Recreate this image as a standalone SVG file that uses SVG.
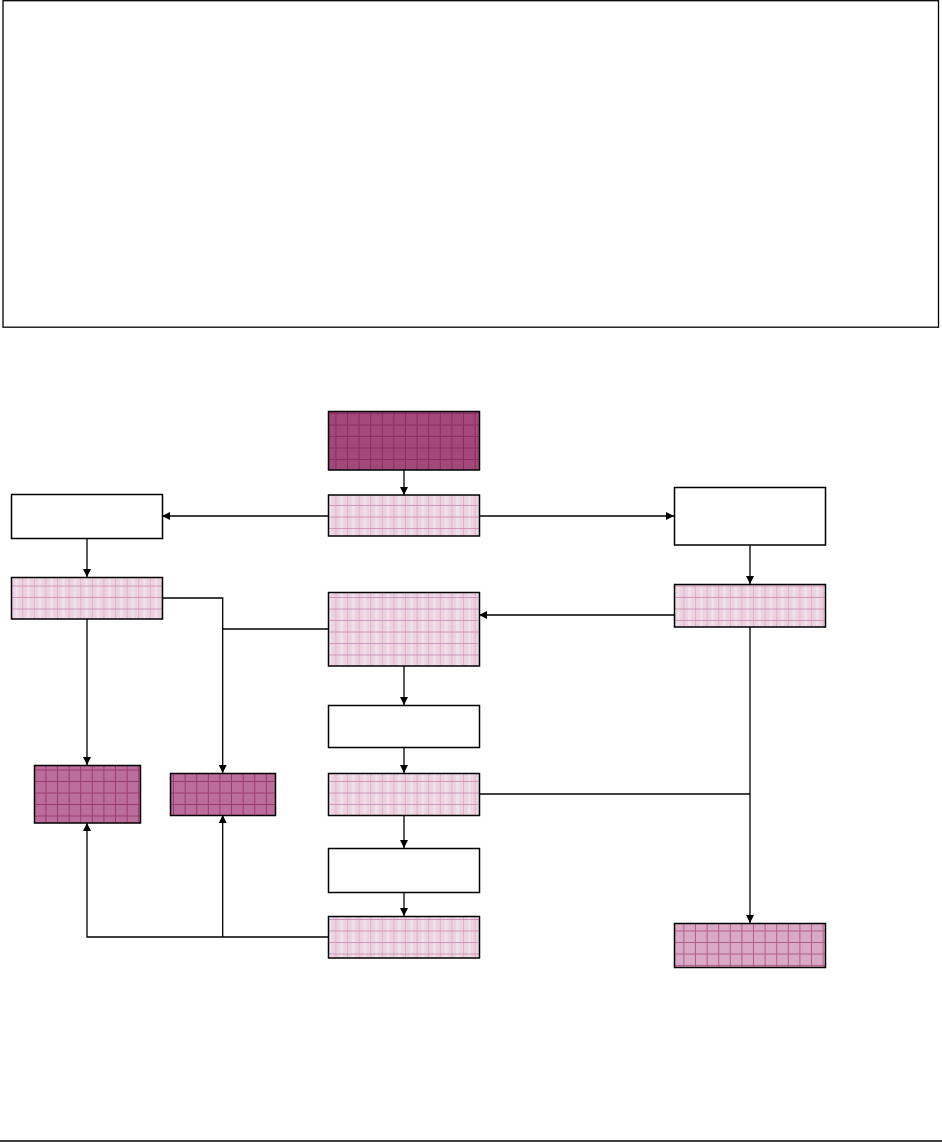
<svg xmlns="http://www.w3.org/2000/svg" width="942" height="1142" viewBox="0 0 942 1142">
<style>
.frame{fill:none;stroke:#000;stroke-width:1.3}
.box{stroke:#000;stroke-width:1.5}
.w{fill:#fff}
.lt{fill:url(#pLight)}
.dk{fill:url(#pDark)}
.md{fill:url(#pMed)}
.pk{fill:url(#pPink)}
.c{fill:none;stroke:#000;stroke-width:1.3}
.ca{fill:none;stroke:#000;stroke-width:1.3;marker-end:url(#ah)}
</style>
<defs>
<marker id="ah" viewBox="0 0 10 10" refX="10" refY="5" markerWidth="8" markerHeight="8" markerUnits="userSpaceOnUse" orient="auto">
<path d="M0,0 L10,5 L0,10 z" fill="#000"/>
</marker>
<pattern id="pLight" patternUnits="userSpaceOnUse" width="11.6" height="11.5">
<rect width="11.6" height="11.5" fill="#ebd3e1"/>
<rect x="4" width="2.5" height="11.5" fill="#f1e2eb"/>
<rect x="10.9" width="0.7" height="11.5" fill="#d9a6c3"/>
<rect y="10.7" width="11.6" height="0.8" fill="#c98ab0"/>
</pattern>
<pattern id="pDark" patternUnits="userSpaceOnUse" width="11.6" height="11.5">
<rect width="11.6" height="11.5" fill="#a3487b"/>
<rect x="10.6" width="1" height="11.5" fill="#8a2c61"/>
<rect y="10.5" width="11.6" height="1" fill="#8a2c61"/>
</pattern>
<pattern id="pMed" patternUnits="userSpaceOnUse" width="11.6" height="11.5">
<rect width="11.6" height="11.5" fill="#bb6e9c"/>
<rect x="10.6" width="1" height="11.5" fill="#9a3a72"/>
<rect y="10.5" width="11.6" height="1" fill="#9a3a72"/>
</pattern>
<pattern id="pPink" patternUnits="userSpaceOnUse" width="11.6" height="11.5">
<rect width="11.6" height="11.5" fill="#d9a9c5"/>
<rect x="10.6" width="1" height="11.5" fill="#b05c8c"/>
<rect y="10.5" width="11.6" height="1" fill="#b05c8c"/>
</pattern>
</defs>
<rect width="942" height="1142" fill="#fff"/>
<rect class="frame" x="3" y="0.7" width="935.5" height="326.5"/>
<line x1="0" y1="1141" x2="942" y2="1141" stroke="#000" stroke-width="1.5"/>

<g id="connectors">
<path class="ca" d="M404,470 V495"/>
<path class="ca" d="M328,516 H162"/>
<path class="ca" d="M479,516 H674"/>
<path class="ca" d="M87,538 V577"/>
<path class="ca" d="M750,545 V584"/>
<path class="ca" d="M674,615 H479"/>
<path class="ca" d="M87,619 V765"/>
<path class="c" d="M162,598 H222.7 V629"/>
<path class="ca" d="M328,629 H222.7 V773"/>
<path class="ca" d="M404,666 V705"/>
<path class="ca" d="M404,747 V773"/>
<path class="ca" d="M404,815 V848"/>
<path class="ca" d="M404,892 V916"/>
<path class="c" d="M479,794 H750"/>
<path class="ca" d="M750,627 V923"/>
<path class="ca" d="M328,937 H87 V823"/>
<path class="ca" d="M222.7,937 V815"/>
</g>

<g id="nodeA"><rect class="box dk" x="328.5" y="411.5" width="151" height="58.5"/></g>
<g id="nodeB"><rect class="box lt" x="328.5" y="495" width="151" height="41"/></g>
<g id="nodeL1"><rect class="box w" x="11.5" y="494.5" width="151" height="44"/></g>
<g id="nodeL2"><rect class="box lt" x="11.5" y="577.5" width="151" height="41.5"/></g>
<g id="nodeR1"><rect class="box w" x="674.5" y="487.5" width="151" height="57.5"/></g>
<g id="nodeR2"><rect class="box lt" x="674.5" y="584.5" width="151" height="42.5"/></g>
<g id="nodeC"><rect class="box lt" x="328.5" y="592.5" width="151" height="73.5"/></g>
<g id="nodeD"><rect class="box w" x="328.5" y="705.5" width="151" height="42"/></g>
<g id="nodeE"><rect class="box lt" x="328.5" y="773.5" width="151" height="42"/></g>
<g id="nodeF"><rect class="box w" x="328.5" y="848.5" width="151" height="44"/></g>
<g id="nodeG"><rect class="box lt" x="328.5" y="916.5" width="151" height="41.5"/></g>
<g id="nodeM1"><rect class="box md" x="34.5" y="765.5" width="106" height="57.5"/></g>
<g id="nodeM2"><rect class="box md" x="170.5" y="773.5" width="105" height="42"/></g>
<g id="nodeR3"><rect class="box pk" x="674.5" y="923.5" width="151" height="44"/></g>
</svg>
